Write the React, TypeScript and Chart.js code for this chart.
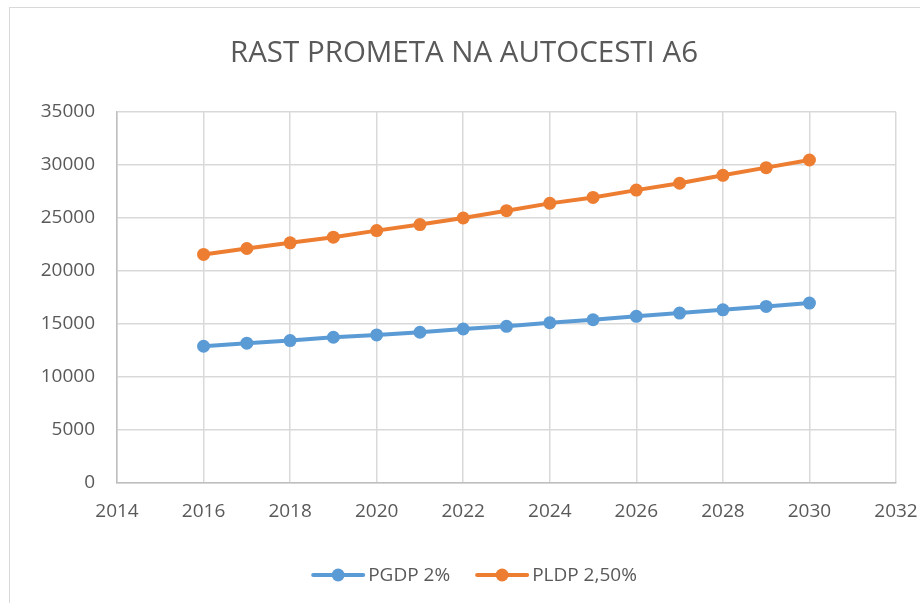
import React, { useEffect, useRef } from "react";
import { Chart, registerables } from "chart.js";

Chart.register(...registerables);

const TITLE = "RAST PROMETA NA AUTOCESTI A6";
const years = [2016, 2017, 2018, 2019, 2020, 2021, 2022, 2023, 2024, 2025, 2026, 2027, 2028, 2029, 2030];
const pgdp = [12900, 13190, 13440, 13750, 13970, 14220, 14530, 14780, 15120, 15400, 15720, 16030, 16340, 16660, 16970];
const pldp = [21560, 22120, 22660, 23190, 23810, 24380, 25000, 25690, 26380, 26940, 27630, 28280, 29030, 29750, 30470];
const seriesNames = ["PGDP 2%", "PLDP 2,50%"];
const seriesColors = ["#5B9BD5", "#ED7D31"];

const FONT = "'Open Sans', 'Liberation Sans', sans-serif";
const TEXT = "#595959";

const titleLegendPlugin = {
  id: "titleLegend",
  afterDraw(chart: any) {
    const ctx = chart.ctx;
    ctx.save();
    // title
    ctx.fillStyle = TEXT;
    ctx.font = `29.5px ${FONT}`;
    ctx.textAlign = "center";
    ctx.textBaseline = "alphabetic";
    ctx.fillText(TITLE, 464, 62);
    // legend
    ctx.font = `19px ${FONT}`;
    ctx.textAlign = "left";
    ctx.textBaseline = "middle";
    const lineW = 50;
    const textGap = 5;
    const itemGap = 27;
    const widths = seriesNames.map((n) => ctx.measureText(n).width);
    const total = widths.reduce((a, w) => a + lineW + textGap + w, 0) + itemGap * (seriesNames.length - 1);
    let x = 475 - total / 2;
    const y = 575;
    seriesNames.forEach((name, i) => {
      ctx.strokeStyle = seriesColors[i];
      ctx.lineWidth = 4;
      ctx.lineCap = "round";
      ctx.beginPath();
      ctx.moveTo(x, y);
      ctx.lineTo(x + lineW, y);
      ctx.stroke();
      ctx.fillStyle = seriesColors[i];
      ctx.beginPath();
      ctx.arc(x + lineW / 2, y, 6.5, 0, Math.PI * 2);
      ctx.fill();
      ctx.fillStyle = TEXT;
      ctx.fillText(name, x + lineW + textGap, y + 1);
      x += lineW + textGap + widths[i] + itemGap;
    });
    ctx.restore();
  },
};

export default function App() {
  const ref = useRef<HTMLCanvasElement>(null);
  useEffect(() => {
    if (!ref.current) return;
    const chart = new Chart(ref.current, {
      type: "line",
      data: {
        datasets: [
          {
            label: seriesNames[0],
            data: years.map((yr, i) => ({ x: yr, y: pgdp[i] })),
            borderColor: seriesColors[0],
            backgroundColor: seriesColors[0],
            borderWidth: 4,
            pointRadius: 6.5,
            pointBorderWidth: 0,
            tension: 0,
          },
          {
            label: seriesNames[1],
            data: years.map((yr, i) => ({ x: yr, y: pldp[i] })),
            borderColor: seriesColors[1],
            backgroundColor: seriesColors[1],
            borderWidth: 4,
            pointRadius: 6.5,
            pointBorderWidth: 0,
            tension: 0,
          },
        ],
      },
      options: {
        responsive: false,
        animation: false,
        layout: { padding: { left: 0, top: 112, right: 24, bottom: 80 } },
        plugins: {
          legend: { display: false },
          title: { display: false },
          tooltip: { enabled: false },
        },
        scales: {
          x: {
            type: "linear",
            min: 2014,
            max: 2032,
            ticks: {
              stepSize: 2,
              color: TEXT,
              font: { family: FONT, size: 19 },
              padding: 17,
              callback: (v: any) => String(v),
              maxRotation: 0,
            },
            grid: { color: "#d9d9d9", lineWidth: 1.5, drawTicks: false },
            border: { color: "#bfbfbf", width: 1.5 },
            afterFit: (s: any) => {
              s.height = 40;
              s.paddingLeft = 0;
              s.paddingRight = 0;
            },
          },
          y: {
            min: 0,
            max: 35000,
            ticks: {
              stepSize: 5000,
              color: TEXT,
              font: { family: FONT, size: 19 },
              padding: 22,
              callback: (v: any) => String(v),
            },
            grid: { color: "#d9d9d9", lineWidth: 1.5, drawTicks: false },
            border: { color: "#bfbfbf", width: 1.5 },
            afterFit: (s: any) => {
              s.width = 117;
              s.paddingTop = 0;
              s.paddingBottom = 0;
            },
          },
        },
      },
      plugins: [titleLegendPlugin],
    });
    return () => chart.destroy();
  }, []);

  return (
    <div style={{ position: "fixed", left: 0, top: 0, width: 920, height: 603, overflow: "hidden", background: "#fff" }}>
      <div
        style={{
          position: "absolute",
          left: 9,
          top: 7,
          width: 950,
          height: 650,
          border: "1.5px solid #d9d9d9",
          boxSizing: "border-box",
        }}
      />
      <canvas ref={ref} width={920} height={603} style={{ position: "absolute", left: 0, top: 0 }} />
    </div>
  );
}
